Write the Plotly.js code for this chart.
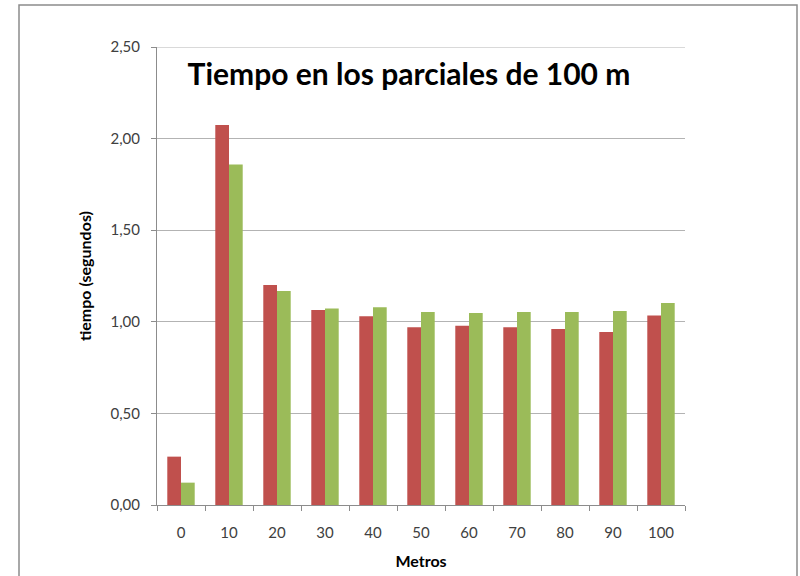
<!DOCTYPE html>
<html>
<head>
<meta charset="utf-8">
<script src="https://cdn.plot.ly/plotly-3.0.1.min.js"></script>
<style>html,body{margin:0;padding:0;background:#fff;}#chart{width:800px;height:576px;}</style>
</head>
<body>
<div id="chart"></div>
<script>
const categories = ["0","10","20","30","40","50","60","70","80","90","100"];
const serieRoja = [0.264, 2.074, 1.201, 1.064, 1.030, 0.970, 0.979, 0.970, 0.961, 0.944, 1.035];
const serieVerde = [0.122, 1.858, 1.168, 1.073, 1.079, 1.054, 1.048, 1.054, 1.054, 1.059, 1.103];
const yTicks = [0, 0.5, 1, 1.5, 2, 2.5];

const L = 157, R = 685, T = 47, B = 505, W = 800, H = 576;
const px = v => (v - L) / (R - L);
const py = v => (B - v) / (B - T);

const traces = [
  {type:'bar', x:categories, y:serieRoja, name:'Serie 1', marker:{color:'#C0504D'}},
  {type:'bar', x:categories, y:serieVerde, name:'Serie 2', marker:{color:'#9BBB59'}}
];

const layout = {
  width: W, height: H,
  margin: {l: L, r: W - R, t: T, b: H - B, pad: 0},
  paper_bgcolor: '#fff', plot_bgcolor: '#fff',
  separators: ',.',
  showlegend: false,
  barmode: 'group',
  bargap: 0.4286,
  bargroupgap: 0,
  font: {family: 'Lato, "Open Sans", sans-serif', color: '#404040', size: 15},
  title: {
    text: '<b>Tiempo en los parciales de 100 m</b>',
    font: {size: 30, color: '#000', family: 'Lato, "Open Sans", sans-serif'},
    xref: 'paper', x: px(409), xanchor: 'center',
    yref: 'container', y: 1 - 74 / H, yanchor: 'middle'
  },
  xaxis: {
    type: 'category',
    showline: true, linecolor: '#8c8c8c', linewidth: 1,
    ticks: 'outside', ticklen: 5, tickcolor: '#8c8c8c', tickson: 'boundaries',
    ticklabelstandoff: 14,
    showgrid: false, zeroline: false,
    tickfont: {size: 15, color: '#404040'},
    title: {text: '<b>Metros</b>', font: {size: 16, color: '#000'}, standoff: 15}
  },
  yaxis: {
    range: [0, 2.5], tickvals: yTicks, tickformat: '.2f',
    showline: true, linecolor: '#8c8c8c', linewidth: 1,
    ticks: 'outside', ticklen: 5, tickcolor: '#8c8c8c',
    ticklabelstandoff: 8,
    showgrid: true, gridcolor: '#b3b3b3', gridwidth: 1,
    zeroline: false,
    tickfont: {size: 15, color: '#404040'},
    title: {text: '<b>tiempo (segundos)</b>', font: {size: 16, color: '#000'}, standoff: 14}
  },
  shapes: [
    {type:'rect', xref:'paper', yref:'paper', x0: px(19), x1: px(797), y0: py(5), y1: py(590),
     line:{color:'#8c8c8c', width:1.5}, fillcolor:'rgba(0,0,0,0)', layer:'below'},
    {type:'line', xref:'paper', yref:'y', x0: 0, x1: 1, y0: yTicks[yTicks.length-1], y1: yTicks[yTicks.length-1],
     line:{color:'#b3b3b3', width:1}, layer:'below'}
  ]
};

Plotly.newPlot('chart', traces, layout, {displayModeBar: false, staticPlot: true});
</script>
</body>
</html>
